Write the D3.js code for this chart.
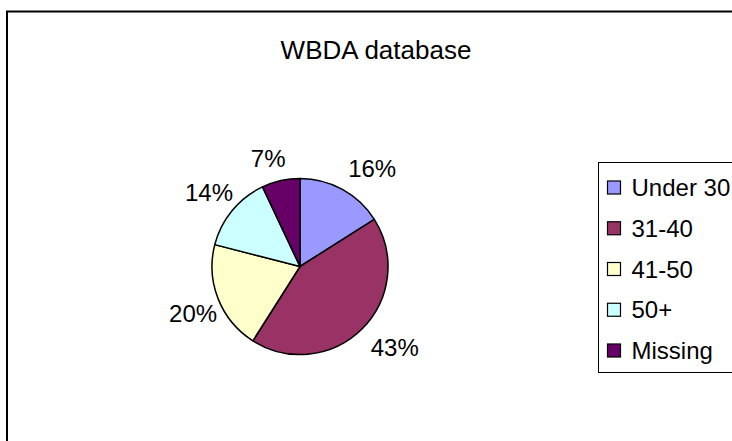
<!DOCTYPE html>
<html>
<head>
  <meta charset="utf-8">
  <script src="https://d3js.org/d3.v7.min.js"></script>
  <style>
    body { margin: 0; background: #fff; }
    text { font-family: "Liberation Sans", Arial, sans-serif; fill: #000; }
  </style>
</head>
<body>
<script>
  // chart data
  var categories = ["Under 30", "31-40", "41-50", "50+", "Missing"];
  var shares = [16, 43, 20, 14, 7];
  var colors = ["#9999FF", "#993366", "#FFFFCC", "#CCFFFF", "#660066"];
  var title = "WBDA database";

  var width = 732, height = 441;
  var svg = d3.select("body").append("svg")
      .attr("width", width)
      .attr("height", height);

  // outer chart frame (runs off the right and bottom)
  svg.append("rect")
      .attr("x", 7).attr("y", 11.5)
      .attr("width", 760).attr("height", 460)
      .attr("fill", "#fff")
      .attr("stroke", "#000")
      .attr("stroke-width", 2);

  svg.append("text")
      .attr("x", 376).attr("y", 59)
      .attr("text-anchor", "middle")
      .style("font-size", "26px")
      .text(title);

  var cx = 300, cy = 266.5, r = 88;
  var data = categories.map(function(c, i) { return {name: c, value: shares[i], color: colors[i]}; });

  var pie = d3.pie().sort(null).value(function(d) { return d.value; });
  var arc = d3.arc().innerRadius(0).outerRadius(r);
  var arcs = pie(data);

  var g = svg.append("g").attr("transform", "translate(" + cx + "," + cy + ")");
  g.selectAll("path.slice")
    .data(arcs)
    .enter().append("path")
      .attr("class", "slice")
      .attr("d", arc)
      .attr("fill", function(d) { return d.data.color; })
      .attr("stroke", "#000")
      .attr("stroke-width", 1.5)
      .attr("stroke-linejoin", "round");

  // labels: anchor just outside the rim at the slice middle, box pushed outward
  var labelR = r + 12;
  g.selectAll("text.lbl")
    .data(arcs)
    .enter().append("text")
      .attr("class", "lbl")
      .style("font-size", "24px")
      .attr("text-anchor", "middle")
      .attr("dy", "0.35em")
      .text(function(d) { return d.data.value + "%"; })
      .each(function(d) {
        var a = (d.startAngle + d.endAngle) / 2;
        var s = Math.sin(a), c = -Math.cos(a);
        var hw = this.getComputedTextLength() / 2;
        var x = labelR * s + (s > 0 ? hw : -hw * 0.58);
        var y = labelR * c + (c > 0 ? 10 : -10);
        d3.select(this).attr("x", x).attr("y", y);
      });

  // legend (right side clipped by the window)
  var lg = svg.append("g").attr("transform", "translate(598.5,162.5)");
  lg.append("rect")
      .attr("width", 140).attr("height", 210)
      .attr("fill", "#fff")
      .attr("stroke", "#000")
      .attr("stroke-width", 1);

  var rowY = d3.scalePoint().domain(categories).range([25, 188]);
  var items = lg.selectAll("g.item")
    .data(data)
    .enter().append("g")
      .attr("class", "item")
      .attr("transform", function(d) { return "translate(0," + rowY(d.name) + ")"; });
  items.append("rect")
      .attr("x", 9).attr("y", -6.5)
      .attr("width", 13).attr("height", 13)
      .attr("fill", function(d) { return d.color; })
      .attr("stroke", "#000")
      .attr("stroke-width", 1.2);
  items.append("text")
      .attr("x", 33).attr("dy", "0.36em")
      .style("font-size", "24px")
      .text(function(d) { return d.name; });
</script>
</body>
</html>
